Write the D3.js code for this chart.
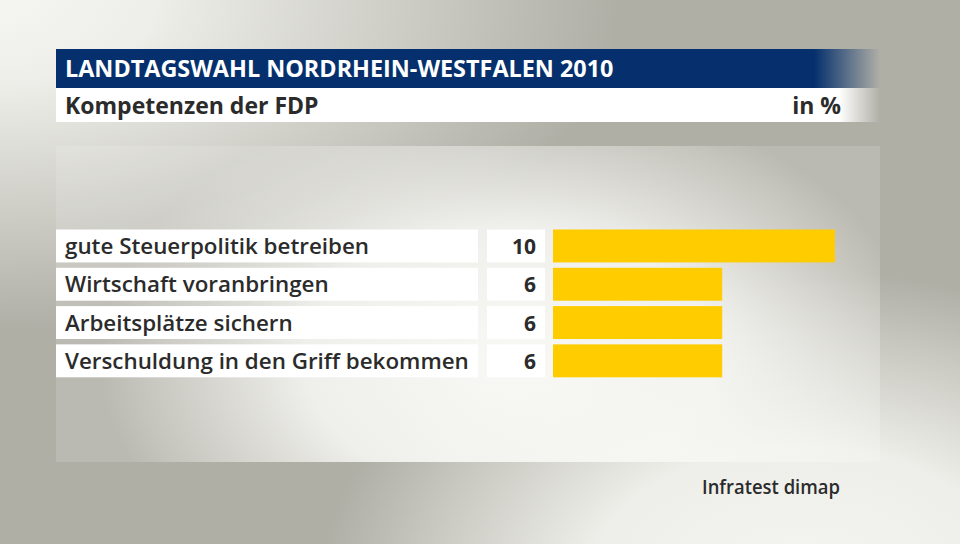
<!DOCTYPE html>
<html>
<head>
<meta charset="utf-8">
<script src="https://cdn.jsdelivr.net/npm/d3@7"></script>
<style>
  html, body { margin: 0; padding: 0; background: #b0afa6; }
  svg { display: block; }
  text { font-family: "Open Sans", "DejaVu Sans", sans-serif; }
</style>
</head>
<body>
<svg id="chart" width="960" height="544"></svg>
<script>
// ---- data ----
const title = "LANDTAGSWAHL NORDRHEIN-WESTFALEN 2010";
const subtitle = "Kompetenzen der FDP";
const unitLabel = "in %";
const source = "Infratest dimap";
const categories = [
  "gute Steuerpolitik betreiben",
  "Wirtschaft voranbringen",
  "Arbeitsplätze sichern",
  "Verschuldung in den Griff bekommen"
];
const values = [10, 6, 6, 6];

// ---- setup ----
const svg = d3.select("#chart");
const W = 960, H = 544;
const defs = svg.append("defs");

function radGrad(id, cx, cy, rx, ry, color, stops) {
  const g = defs.append("radialGradient").attr("id", id)
    .attr("gradientUnits", "userSpaceOnUse")
    .attr("cx", cx).attr("cy", cy).attr("r", rx)
    .attr("gradientTransform", `translate(${cx},${cy}) scale(1,${ry / rx}) translate(${-cx},${-cy})`);
  stops.forEach(s => g.append("stop").attr("offset", s[0])
    .attr("stop-color", color).attr("stop-opacity", s[1]));
  return g;
}
// horizontally stretch/condense text to mimic the original typeface widths
function widthScale(sel, k) {
  sel.each(function () {
    const w = this.getComputedTextLength();
    d3.select(this).attr("textLength", w * k).attr("lengthAdjust", "spacingAndGlyphs");
  });
}

// background: grey base with a light glow top-left and bottom-right
radGrad("bgTL", 0, 0, 620, 330, "#f5f5f1", [[0, 1], [0.25, 0.9], [1, 0]]);
radGrad("bgBR", 800, 590, 480, 320, "#f5f5f1", [[0, 1], [0.45, 0.9], [1, 0]]);
svg.append("rect").attr("width", W).attr("height", H).attr("fill", "#b0afa6");
svg.append("rect").attr("width", W).attr("height", H).attr("fill", "url(#bgTL)");
svg.append("rect").attr("width", W).attr("height", H).attr("fill", "url(#bgBR)");

// panel: translucent light box with its own glow
const panel = { x: 56, y: 146, w: 824, h: 316 };
radGrad("panelGlow", 510, 360, 410, 270, "#f8f8f5", [[0, 1], [0.5, 0.85], [1, 0]]);
svg.append("rect").attr("x", panel.x).attr("y", panel.y).attr("width", panel.w).attr("height", panel.h)
  .attr("fill", "#ffffff").attr("fill-opacity", 0.14);
svg.append("rect").attr("x", panel.x).attr("y", panel.y).attr("width", panel.w).attr("height", panel.h)
  .attr("fill", "url(#panelGlow)");

// header
const hg = defs.append("linearGradient").attr("id", "titleGrad")
  .attr("gradientUnits", "userSpaceOnUse").attr("x1", 56).attr("x2", 880).attr("y1", 0).attr("y2", 0);
[[0, "#05306d", 1], [0.92, "#05306d", 1], [1, "#05306d", 0]]
  .forEach(s => hg.append("stop").attr("offset", s[0]).attr("stop-color", s[1]).attr("stop-opacity", s[2]));
const sg = defs.append("linearGradient").attr("id", "subGrad")
  .attr("gradientUnits", "userSpaceOnUse").attr("x1", 56).attr("x2", 880).attr("y1", 0).attr("y2", 0);
[[0, "#ffffff", 1], [0.95, "#ffffff", 1], [1, "#ffffff", 0]]
  .forEach(s => sg.append("stop").attr("offset", s[0]).attr("stop-color", s[1]).attr("stop-opacity", s[2]));

svg.append("rect").attr("x", 56).attr("y", 49).attr("width", 824).attr("height", 39).attr("fill", "url(#titleGrad)");
svg.append("rect").attr("x", 56).attr("y", 88).attr("width", 824).attr("height", 34).attr("fill", "url(#subGrad)");

svg.append("text").attr("x", 65).attr("y", 77).attr("fill", "#ffffff")
  .attr("font-size", 24).attr("font-weight", 700).text(title)
  .call(widthScale, 0.975);
svg.append("text").attr("x", 65).attr("y", 114).attr("fill", "#2b2b2b")
  .attr("font-size", 23).attr("font-weight", 700).text(subtitle);
svg.append("text").attr("x", 841).attr("y", 114).attr("fill", "#2b2b2b").attr("text-anchor", "end")
  .attr("font-size", 23).attr("font-weight", 700).text(unitLabel);

// scales
const y = d3.scaleBand().domain(categories).range([229.5, 377.3]).paddingInner(0.14).paddingOuter(0);
const x = d3.scaleLinear().domain([0, 10]).range([553, 835]);

const rows = svg.append("g").selectAll("g").data(categories).join("g");
rows.append("rect").attr("x", 56).attr("y", d => y(d)).attr("width", 422).attr("height", y.bandwidth())
  .attr("fill", "#ffffff");
rows.append("rect").attr("x", 487).attr("y", d => y(d)).attr("width", 58).attr("height", y.bandwidth())
  .attr("fill", "#ffffff");
rows.append("rect").attr("x", x(0)).attr("y", d => y(d))
  .attr("width", (d, i) => x(values[i]) - x(0)).attr("height", y.bandwidth())
  .attr("fill", "#ffcc00");
rows.append("text").attr("x", 65).attr("y", d => y(d) + y.bandwidth() / 2 + 8)
  .attr("font-size", 21.5).attr("font-weight", 600).attr("fill", "#2b2b2b").text(d => d)
  .call(widthScale, 1.04);
rows.append("text").attr("x", 536).attr("y", d => y(d) + y.bandwidth() / 2 + 8)
  .attr("text-anchor", "end")
  .attr("font-size", 21).attr("font-weight", 700).attr("fill", "#2b2b2b").text((d, i) => values[i]);

svg.append("text").attr("x", 840).attr("y", 494).attr("text-anchor", "end")
  .attr("font-size", 19).attr("font-weight", 600).attr("fill", "#2b2b2b").text(source)
  .call(widthScale, 0.97);
</script>
</body>
</html>
